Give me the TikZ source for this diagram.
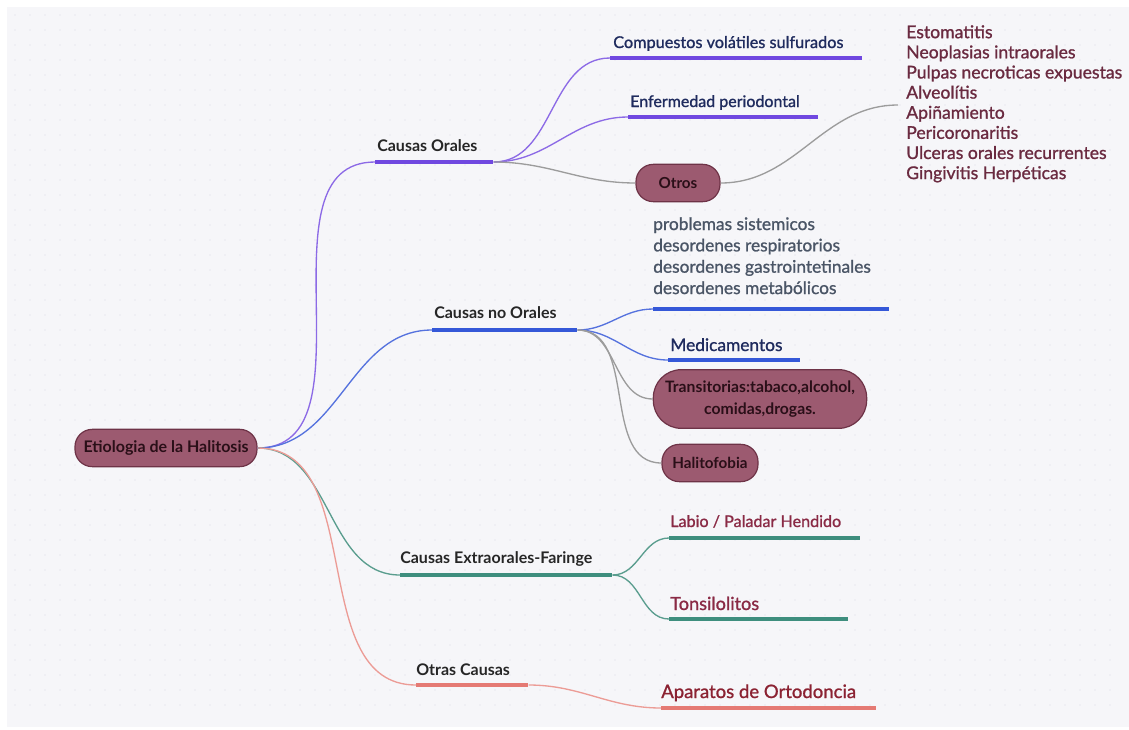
\documentclass[tikz,border=0pt]{standalone}
\usepackage{fontspec}
\setmainfont{Lato}
\newfontfamily\medf{Lato}[FakeBold=1.1]
\begin{document}
\begin{tikzpicture}[x=0.75pt,y=-0.75pt,
  bar/.style={rectangle,inner sep=0pt,minimum height=3pt,anchor=west},
  pill/.style={rectangle,rounded corners=13pt,draw=pillb,fill=pillf,line width=0.9pt,
    text=pilltx,font=\bfseries\fontsize{11.4}{14}\selectfont,align=center,inner sep=0pt},
  lbl/.style={anchor=base west,inner sep=0pt,font=\bfseries\fontsize{12}{14}\selectfont,text=black!85},
  leaf/.style={anchor=base west,inner sep=0pt},
  conn/.style={line width=1pt,out=0,in=180}
]
\definecolor{bgc}{HTML}{F6F6F9}
\definecolor{dotc}{HTML}{DCDCE4}
\definecolor{purp}{HTML}{7048E0}
\definecolor{purpl}{HTML}{8C6AE6}
\definecolor{blu}{HTML}{3558D8}
\definecolor{blul}{HTML}{5572DE}
\definecolor{gry}{HTML}{9C9C9C}
\definecolor{teal}{HTML}{3E8E7E}
\definecolor{tealL}{HTML}{5A9D8E}
\definecolor{salm}{HTML}{E57A74}
\definecolor{salmL}{HTML}{EC9C96}
\definecolor{pillf}{HTML}{9C5A70}
\definecolor{pillb}{HTML}{6E3347}
\definecolor{pilltx}{HTML}{2A0F18}
\definecolor{listc}{HTML}{6A2A40}
\definecolor{navy}{HTML}{1F2B5E}
\definecolor{grayblue}{HTML}{4A5566}
\definecolor{maroon}{HTML}{8A2A45}
\definecolor{redm}{HTML}{8B2232}

\useasboundingbox (0,0) rectangle (1129,729);
\fill[white] (0,0) rectangle (1129,729);
\fill[bgc] (7,7) rectangle (1129,727);
\foreach \i in {0,...,73}{\foreach \j in {0,...,46}{
  \fill[dotc] (15+15*\i,15+15*\j) circle (0.7);}}

% root
\node[pill,minimum width=136.5pt,minimum height=28pt,font=\bfseries\fontsize{12}{14}\selectfont] (root) at (166,448) {Etiologia de la Halitosis};

% Causas Orales
\node[bar,fill=purp,minimum width=88.5pt] (coU) at (375,162) {};
\node[lbl] (coT) at (377,151) {Causas Orales};
\node[bar,fill=purp,minimum width=189pt] (cvU) at (610,58) {};
\node[leaf,text=navy,font=\medf\fontsize{12.2}{14}\selectfont] (cvT) at (613,48) {Compuestos volátiles sulfurados};
\node[bar,fill=purp,minimum width=142.5pt] (epU) at (628,117) {};
\node[leaf,text=navy,font=\medf\fontsize{12}{14}\selectfont] (epT) at (630,107) {Enfermedad periodontal};
\node[pill,minimum width=63pt,minimum height=28pt] (otros) at (678,183) {Otros};
\node[anchor=north west,inner sep=0pt,align=left,text=listc,font=\medf\fontsize{13.2}{15.1}\selectfont] (list) at (906,25)
 {Estomatitis\\Neoplasias intraorales\\Pulpas necroticas expuestas\\Alveolítis\\Apiñamiento\\Pericoronaritis\\Ulceras orales recurrentes\\Gingivitis Herpéticas};
\coordinate (listin) at (898,105);

% Causas no Orales
\node[bar,fill=blu,minimum width=108.75pt] (cnU) at (432,330) {};
\node[lbl] (cnT) at (434,318) {Causas no Orales};
\node[bar,fill=blu,minimum width=177pt] (psU) at (653,309) {};
\node[anchor=north west,inner sep=0pt,align=left,text=grayblue,font=\medf\fontsize{13}{16}\selectfont] (psT) at (653,217)
 {problemas sistemicos\\desordenes respiratorios\\desordenes gastrointetinales\\desordenes metabólicos};
\node[bar,fill=blu,minimum width=99pt] (meU) at (668,360) {};
\node[leaf,text=navy,font=\medf\fontsize{13}{15}\selectfont] (meT) at (670,351) {Medicamentos};
\node[pill,minimum width=160pt,minimum height=44pt,rounded corners=21pt,font=\bfseries\fontsize{11.8}{16}\selectfont] (tr) at (760,399) {Transitorias:tabaco,alcohol,\\comidas,drogas.};
\node[pill,minimum width=72pt,minimum height=28pt] (ha) at (710,463) {Halitofobia};

% Causas Extraorales
\node[bar,fill=teal,minimum width=159pt] (ceU) at (400,575) {};
\node[lbl] (ceT) at (400,563) {Causas Extraorales-Faringe};
\node[bar,fill=teal,minimum width=143pt] (lpU) at (669,538) {};
\node[leaf,text=maroon,font=\medf\fontsize{12.1}{14}\selectfont] (lpT) at (670,527) {Labio / Paladar Hendido};
\node[bar,fill=teal,minimum width=134pt] (toU) at (669,619) {};
\node[leaf,text=maroon,font=\medf\fontsize{13.6}{15}\selectfont] (toT) at (670,610) {Tonsilolitos};

% Otras Causas
\node[bar,fill=salm,minimum width=84pt] (ocU) at (416,685) {};
\node[lbl] (ocT) at (416,675) {Otras Causas};
\node[bar,fill=salm,minimum width=161pt] (apU) at (661,708) {};
\node[leaf,text=redm,font=\medf\fontsize{13.9}{15}\selectfont] (apT) at (661,698) {Aparatos de Ortodoncia};

% connectors
\draw[conn,purpl] (root.east) to (coU.west);
\draw[conn,blul] (root.east) to (cnU.west);
\draw[conn,tealL] (root.east) to (ceU.west);
\draw[conn,salmL] (root.east) to (ocU.west);

\draw[conn,purpl] (coU.east) to (cvU.west);
\draw[conn,purpl] (coU.east) to (epU.west);
\draw[conn,gry] (coU.east) to (otros.west);
\draw[conn,gry] (otros.east) to (listin);

\draw[conn,blul] (cnU.east) to (psU.west);
\draw[conn,blul] (cnU.east) to (meU.west);
\draw[conn,gry] (cnU.east) to (tr.west);
\draw[conn,gry] (cnU.east) to (ha.west);

\draw[conn,tealL] (ceU.east) to (lpU.west);
\draw[conn,tealL] (ceU.east) to (toU.west);

\draw[conn,salmL] (ocU.east) to (apU.west);
\end{tikzpicture}
\end{document}
